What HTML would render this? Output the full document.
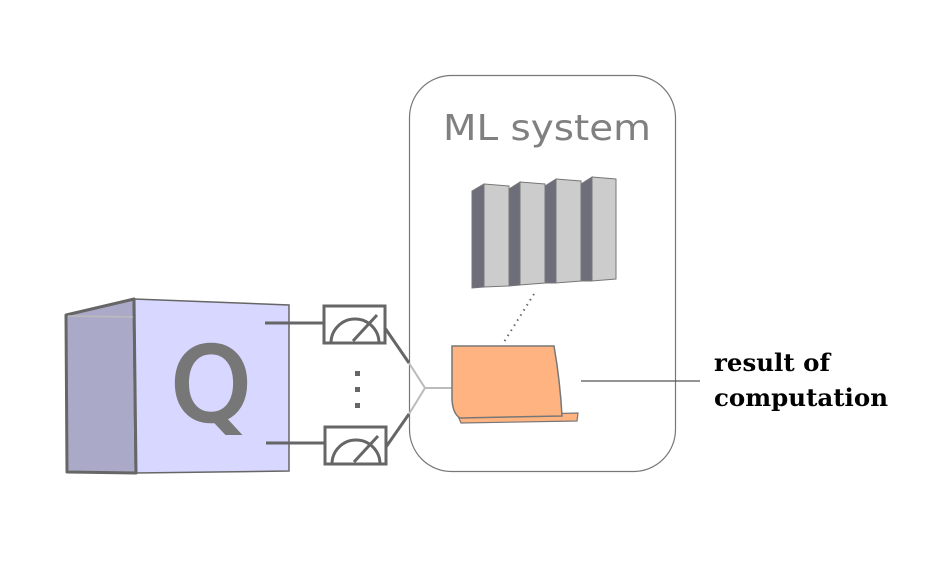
<!DOCTYPE html>
<html><head><meta charset="utf-8"><style>body{margin:0;background:#fff}svg{display:block}</style></head><body>
<svg width="925" height="566" viewBox="0 0 925 566" xmlns="http://www.w3.org/2000/svg">
<rect x="409.5" y="75.5" width="266" height="396" rx="42" fill="none" stroke="#777" stroke-width="1.2"/>
<text x="443" y="140" font-family="DejaVu Sans, sans-serif" font-size="36" fill="#808080" textLength="208" lengthAdjust="spacingAndGlyphs">ML system</text>
<!-- cube -->
<polygon points="66,315 134,299 136,473 67,472" fill="#aaaac8" stroke="#666" stroke-width="3" stroke-linejoin="round"/>
<polygon points="134,299 289,305 289,471 136,473" fill="#d7d7ff" stroke="#666" stroke-width="1.5"/>
<line x1="134" y1="299" x2="136" y2="473" stroke="#666" stroke-width="3"/>
<line x1="68" y1="316" x2="133" y2="317" stroke="#bbb" stroke-width="1.5"/>
<text x="211" y="420" text-anchor="middle" font-family="DejaVu Sans, sans-serif" font-size="102" fill="#777" stroke="#777" stroke-width="3.5">Q</text>
<!-- wires -->
<g stroke="#666" stroke-width="3" fill="none">
<line x1="265" y1="323" x2="324" y2="323"/>
<line x1="266" y1="443" x2="325" y2="443"/>
<line x1="385" y1="328" x2="409" y2="363"/>
<line x1="386" y1="447" x2="409" y2="414"/>
</g>
<g stroke="#bbb" stroke-width="2" fill="none">
<polyline points="409,363 425,388 409,414"/>
<line x1="425" y1="388" x2="453" y2="388"/>
</g>
<!-- meters -->
<g stroke="#666" stroke-width="3" fill="#fff">
<rect x="324" y="306" width="61" height="37"/>
<rect x="325" y="427" width="61" height="37"/>
</g>
<g stroke="#666" stroke-width="3" fill="none">
<path d="M331,343 A24,24 0 0 1 379,343"/>
<line x1="353" y1="341" x2="377" y2="315"/>
<path d="M332,464 A24,24 0 0 1 380,464"/>
<line x1="354" y1="462" x2="378" y2="436"/>
</g>
<g fill="#666"><rect x="355" y="371" width="5" height="5"/><rect x="355" y="387" width="5" height="5"/><rect x="355" y="403" width="5" height="5"/></g>
<!-- servers -->
<g stroke="#777" stroke-width="1">
<polygon points="472,191 484,184 484,287 472,288" fill="#6e6e7a"/>
<polygon points="484,184 509,186 509,286 484,287" fill="#cccccc"/>
<polygon points="509,189 520,182 520,285 509,286" fill="#6e6e7a"/>
<polygon points="520,182 545,184 545,283 520,285" fill="#cccccc"/>
<polygon points="545,186 556,179 556,283 545,283" fill="#6e6e7a"/>
<polygon points="556,179 581,181 581,281 556,283" fill="#cccccc"/>
<polygon points="581,184 592,177 592,281 581,281" fill="#6e6e7a"/>
<polygon points="592,177 616,179 616,279 592,281" fill="#cccccc"/>
</g>
<line x1="534" y1="294" x2="504" y2="342" stroke="#666" stroke-width="2" stroke-dasharray="1.5,4.5"/>
<!-- laptop -->
<path d="M458,416 L578,413 L577,421 L461,423 Z" fill="#ffb380" stroke="#777" stroke-width="1.2"/>
<path d="M452,346 L554,346 Q560,380 562,416 L460,418 Q453,414 452,400 Z" fill="#ffb380" stroke="#777" stroke-width="1.5"/>
<line x1="581" y1="381" x2="700" y2="381" stroke="#555" stroke-width="1.2"/>
<g font-family="DejaVu Serif, serif" font-weight="bold" font-size="24" fill="#000">
<text x="714" y="371" textLength="116" lengthAdjust="spacingAndGlyphs">result of</text>
<text x="714" y="406" textLength="174" lengthAdjust="spacingAndGlyphs">computation</text>
</g>
</svg>
</body></html>
